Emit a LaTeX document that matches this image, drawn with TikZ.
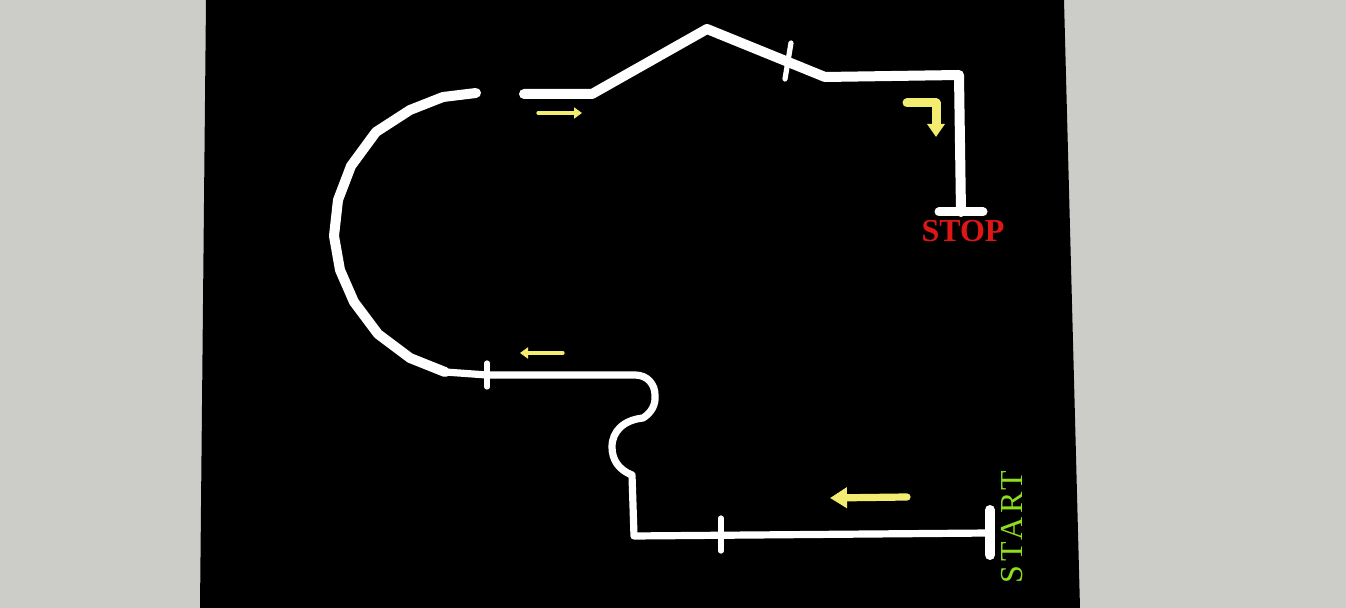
\documentclass[tikz,border=0pt]{standalone}
\usepackage{fontspec}
\setmainfont{Liberation Serif}
\newfontfamily\startfont[LetterSpace=12]{Liberation Serif}
\usetikzlibrary{arrows.meta}
\definecolor{bgray}{RGB}{204,204,200}
\definecolor{ylw}{RGB}{242,236,112}
\definecolor{stopred}{RGB}{222,22,22}
\definecolor{startgreen}{RGB}{140,222,30}
\tikzset{
  track/.style={draw=white, line width=3.6pt, line cap=round, line join=round},
  trackthick/.style={draw=white, line width=5pt, line cap=round, line join=round},
  tickmark/.style={draw=white, line width=2.6pt, line cap=round},
  yarrow/.style 2 args={draw=ylw, line cap=round, -{Triangle[length=#1,width=#2]}},
}
\begin{document}
\begin{tikzpicture}[x=0.5pt,y=-0.5pt]
\useasboundingbox (0,0) rectangle (1346,608);
\fill[bgray] (0,0) rectangle (1346,608);
\fill[black] (206,0) -- (1064,0) -- (1080,608) -- (200,608) -- cycle;
% named points of the track
\coordinate (s1) at (990,533);
\coordinate (b1) at (634,536);
\coordinate (b2) at (632,475);
\coordinate (j1) at (643,418);
\coordinate (h1) at (635,375);
\coordinate (h2) at (487,375);
\coordinate (c0) at (445,372);
\coordinate (c12) at (476,93);
\coordinate (u0) at (524,94);
\coordinate (u1) at (592,94);
\coordinate (u2) at (707,29);
\coordinate (u3) at (825,77);
\coordinate (u4) at (959,75);
\coordinate (u5) at (961,212);
% lower track
\draw[track] (s1) -- (b1) -- (b2)
  .. controls (619,470) and (612,460) .. (612,447)
  .. controls (612,431) and (624,420) .. (j1)
  .. controls (651,413) and (656,405) .. (655,395)
  .. controls (655,385) and (648,375) .. (h1) -- (h2) -- (c0);
% big curve
\draw[trackthick] (c0) -- (410,358) -- (378,334) -- (354,302) -- (340,270)
  -- (334,236) -- (338,200) -- (351,166) -- (376,132) -- (410,110)
  -- (443,97) -- (c12);
% upper track
\draw[trackthick] (u0) -- (u1) -- (u2) -- (u3) -- (u4) -- (u5);
% start and stop bars
\draw[draw=white, line width=5pt, line cap=round] (990,510) -- (990,555);
\draw[draw=white, line width=4.5pt, line cap=round] (939,212) -- (983,212);
% ticks
\draw[tickmark] (721,518) -- (721,551);
\draw[tickmark] (487,363) -- (487,387);
\draw[tickmark] (791,43) -- (785,79);
% yellow arrows
\draw[yarrow={4pt}{5.5pt}, line width=1.6pt] (538,113) -- (582,113);
\draw[yarrow={4pt}{5.5pt}, line width=1.6pt] (563,353) -- (520,353);
\draw[yarrow={6.5pt}{8.5pt}, line width=4.5pt, line cap=round, line join=round] (907,103) -- (936,103) -- (936,137);
\draw[yarrow={8.5pt}{10pt}, line width=3.6pt] (907,497) -- (830,498);
% labels
\node[text=stopred, font=\fontsize{16}{16}\selectfont\bfseries, inner sep=0pt] (stop) at (963,231) {STOP};
\node[text=startgreen, font=\fontsize{16}{16}\startfont, inner sep=0pt, rotate=90] (start) at (1012,527) {START};
\end{tikzpicture}
\end{document}
